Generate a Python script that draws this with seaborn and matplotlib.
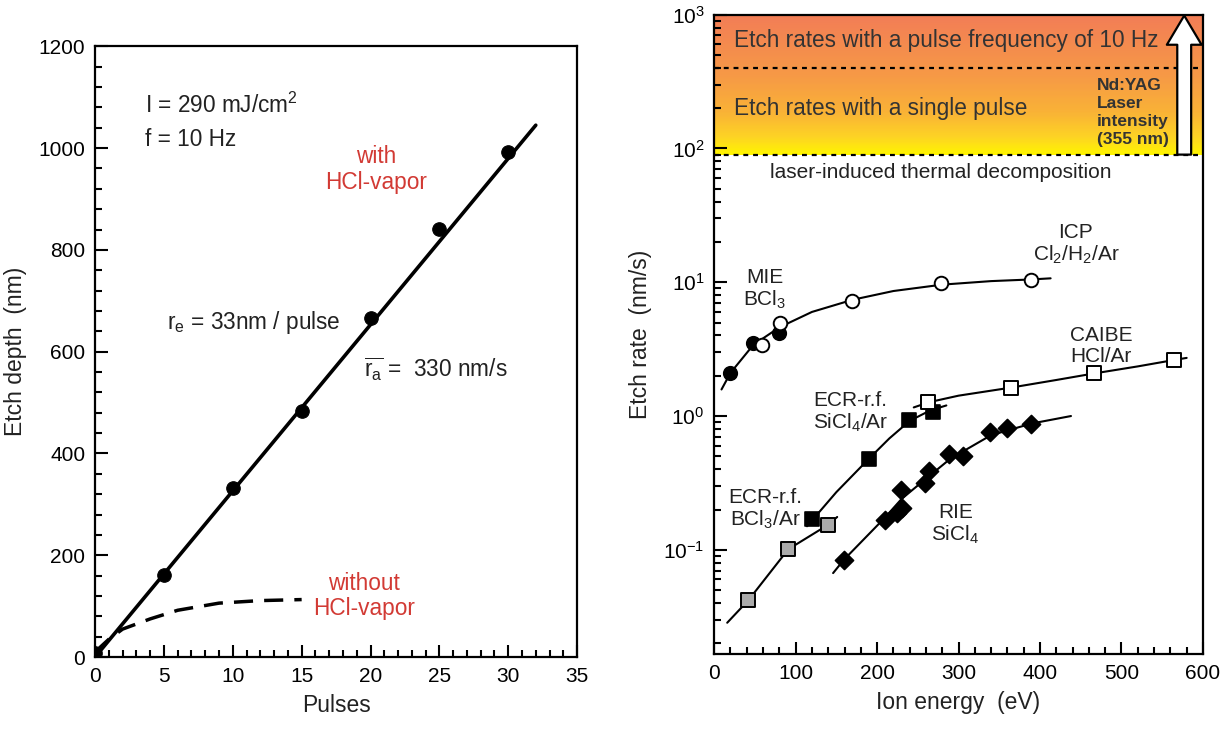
import numpy as np
import matplotlib
matplotlib.use("Agg")
import matplotlib.pyplot as plt
import seaborn as sns
from matplotlib.colors import LinearSegmentedColormap
from matplotlib.patches import FancyArrowPatch
from matplotlib.ticker import MultipleLocator, LogLocator, NullFormatter

# ---------------- data: left panel ----------------
pulses = [0, 5, 10, 15, 20, 25, 30]
depth_hcl = [8, 161, 332, 483, 666, 841, 992]
fit_pulses = [0, 32]
fit_depth = [0, 1045]
pulses_nohcl = [0, 1, 2, 4, 6, 9, 12, 15]
depth_nohcl = [10, 35, 55, 75, 92, 106, 111, 113]

# ---------------- data: right panel ----------------
mie_e = [20, 48, 79]
mie_r = [2.08, 3.5, 4.15]
icp_e = [59, 81, 169, 279, 389]
icp_r = [3.41, 5.0, 7.3, 9.9, 10.4]
mie_curve_e = [9, 20, 48, 80, 120, 170, 220, 280, 340, 390, 413]
mie_curve_r = [1.58, 2.1, 3.4, 4.6, 6.0, 7.4, 8.6, 9.6, 10.2, 10.5, 10.7]

ecr_si_e = [120, 190, 239, 269]
ecr_si_r = [0.17, 0.48, 0.93, 1.07]
ecr_si_curve_e = [114, 150, 190, 215, 240, 265, 285]
ecr_si_curve_r = [0.15, 0.27, 0.48, 0.68, 0.92, 1.1, 1.2]

caibe_e = [263, 364, 466, 564]
caibe_r = [1.27, 1.63, 2.09, 2.62]
caibe_curve_e = [245, 264, 300, 364, 420, 466, 520, 564, 580]
caibe_curve_r = [1.16, 1.27, 1.42, 1.63, 1.86, 2.08, 2.35, 2.62, 2.72]

ecr_b_e = [42, 91, 140]
ecr_b_r = [0.042, 0.101, 0.154]
ecr_b_curve_e = [16, 42, 91, 140, 151]
ecr_b_curve_r = [0.0285, 0.042, 0.101, 0.154, 0.176]

rie_e = [159, 210, 225, 231, 229, 259, 264, 288, 305, 339, 360, 389]
rie_r = [0.084, 0.168, 0.188, 0.206, 0.282, 0.316, 0.387, 0.516, 0.50, 0.764, 0.819, 0.867]
rie_curve_e = [146, 159, 210, 230, 260, 290, 340, 390, 438]
rie_curve_r = [0.067, 0.084, 0.175, 0.24, 0.34, 0.48, 0.72, 0.88, 1.0]

band_low, band_mid, band_top = 90, 400, 1000

# ---------------- style ----------------
sns.set_theme(style="ticks")
plt.rcParams["font.family"] = ["Liberation Sans", "DejaVu Sans"]
plt.rcParams.update({
    "mathtext.fontset": "custom",
    "mathtext.rm": "Liberation Sans",
    "mathtext.it": "Liberation Sans",
    "mathtext.bf": "Liberation Sans:bold",
    "axes.linewidth": 1.6,
    "axes.edgecolor": "black",
    "xtick.color": "black",
    "ytick.color": "black",
    "axes.labelcolor": "#222222",
})
red = "#D23A34"
txt = "#222222"
ann = 16.3

fig = plt.figure(figsize=(12.25, 7.35), dpi=100)
ax1 = fig.add_axes([0.0776, 0.106, 0.3935, 0.831])
ax2 = fig.add_axes([0.583, 0.110, 0.399, 0.870])

# ---------------- left panel ----------------
sns.lineplot(x=fit_pulses, y=fit_depth, ax=ax1, color="black", lw=2.6,
             estimator=None, sort=False)
sns.lineplot(x=pulses_nohcl, y=depth_nohcl, ax=ax1, color="black", lw=2.5,
             estimator=None, sort=False, linestyle=(0, (5.5, 3.2)))
sns.scatterplot(x=pulses, y=depth_hcl, ax=ax1, color="black", s=95,
                marker="o", edgecolor="black", zorder=5)
ax1.set_xlim(0, 35)
ax1.set_ylim(0, 1200)
ax1.xaxis.set_major_locator(MultipleLocator(5))
ax1.xaxis.set_minor_locator(MultipleLocator(1))
ax1.yaxis.set_major_locator(MultipleLocator(200))
ax1.yaxis.set_minor_locator(MultipleLocator(40))
ax1.tick_params(which="both", direction="in", top=False, right=False,
                labelsize=15, width=1.5, pad=7)
ax1.tick_params(which="major", length=9)
ax1.tick_params(which="minor", length=5)
ax1.set_xlabel("Pulses", fontsize=16.5, labelpad=6)
ax1.set_ylabel("Etch depth  (nm)", fontsize=16.5, labelpad=8)

ax1.text(3.6, 1084, "I = 290 mJ/cm$^2$", fontsize=ann, color=txt, va="center")
ax1.text(3.6, 1017, "f = 10 Hz", fontsize=ann, color=txt, va="center")
ax1.text(20.4, 958, "with\nHCl-vapor", fontsize=ann, color=red, ha="center",
         va="center", linespacing=1.15)
ax1.text(5.2, 658, "r$_\\mathrm{e}$ = 33nm / pulse", fontsize=ann, color=txt,
         va="center")
ax1.text(19.5, 566, "$\\overline{\\mathrm{r}_\\mathrm{a}}$ =  330 nm/s",
         fontsize=ann, color=txt, va="center")
ax1.text(19.5, 120, "without\nHCl-vapor", fontsize=ann, color=red, ha="center",
         va="center", linespacing=1.15)

# ---------------- right panel ----------------
ax2.set_yscale("log")
ax2.set_xlim(0, 600)
ax2.set_ylim(0.0166, 1000)

cmap = LinearSegmentedColormap.from_list(
    "band",
    [(0.0, "#FFF400"), (0.12, "#FDD324"), (0.3, "#F9B236"),
     (0.55, "#F69A45"), (1.0, "#F27D56")])
Y = np.logspace(np.log10(band_low), np.log10(band_top), 120)
Yc = 0.5 * (np.log10(Y[:-1]) + np.log10(Y[1:]))
C = ((Yc - np.log10(band_low)) / (np.log10(band_top) - np.log10(band_low)))[:, None]
ax2.pcolormesh([0, 600], Y, C, cmap=cmap, shading="flat", zorder=0,
               rasterized=True)
for yv in (band_low, band_mid):
    ax2.axhline(yv, color="black", lw=1.6, linestyle=(0, (2.2, 2.2)), zorder=2)

arrow = FancyArrowPatch((577, band_low), (577, band_top * 0.985),
                        arrowstyle="simple,head_length=1.05,head_width=1.25,tail_width=0.5",
                        mutation_scale=20, fc="white", ec="black", lw=1.6,
                        shrinkA=0, shrinkB=0, zorder=3)
ax2.add_patch(arrow)

ax2.text(24, 640, "Etch rates with a pulse frequency of 10 Hz", fontsize=16.3,
         color="#333333", va="center")
ax2.text(24, 200, "Etch rates with a single pulse", fontsize=16.3,
         color="#333333", va="center")
ax2.text(470, 185, "Nd:YAG\nLaser\nintensity\n(355 nm)", fontsize=12.5,
         fontweight="bold", color="#333333", va="center", ha="left",
         linespacing=1.25)
ax2.text(278, 66, "laser-induced thermal decomposition", fontsize=15,
         color=txt, ha="center", va="center")

# curves
for ce, cr in [(mie_curve_e, mie_curve_r), (ecr_si_curve_e, ecr_si_curve_r),
               (caibe_curve_e, caibe_curve_r), (ecr_b_curve_e, ecr_b_curve_r),
               (rie_curve_e, rie_curve_r)]:
    sns.lineplot(x=ce, y=cr, ax=ax2, color="black", lw=1.5, estimator=None,
                 sort=False, zorder=3)

sns.scatterplot(x=mie_e, y=mie_r, ax=ax2, marker="o", s=95, color="black",
                edgecolor="black", linewidth=1.2, zorder=5)
sns.scatterplot(x=icp_e, y=icp_r, ax=ax2, marker="o", s=95, color="white",
                edgecolor="black", linewidth=1.4, zorder=6)
sns.scatterplot(x=ecr_si_e, y=ecr_si_r, ax=ax2, marker="s", s=105,
                color="black", edgecolor="black", linewidth=1.2, zorder=5)
sns.scatterplot(x=caibe_e, y=caibe_r, ax=ax2, marker="s", s=105,
                color="white", edgecolor="black", linewidth=1.4, zorder=6)
sns.scatterplot(x=ecr_b_e, y=ecr_b_r, ax=ax2, marker="s", s=105,
                color="#AAAAAA", edgecolor="black", linewidth=1.4, zorder=5)
sns.scatterplot(x=rie_e, y=rie_r, ax=ax2, marker="D", s=85, color="black",
                edgecolor="black", linewidth=1.2, zorder=5)

lab = 15
ax2.text(62, 8.9, "MIE\nBCl$_3$", fontsize=lab, color=txt, ha="center",
         va="center", linespacing=1.1)
ax2.text(444, 19, "ICP\nCl$_2$/H$_2$/Ar", fontsize=lab, color=txt,
         ha="center", va="center", linespacing=1.1)
ax2.text(475, 3.35, "CAIBE\nHCl/Ar", fontsize=lab, color=txt, ha="center",
         va="center", linespacing=1.1)
ax2.text(167, 1.07, "ECR-r.f.\nSiCl$_4$/Ar", fontsize=lab, color=txt,
         ha="center", va="center", linespacing=1.1)
ax2.text(63, 0.2, "ECR-r.f.\nBCl$_3$/Ar", fontsize=lab, color=txt,
         ha="center", va="center", linespacing=1.1)
ax2.text(296, 0.155, "RIE\nSiCl$_4$", fontsize=lab, color=txt, ha="center",
         va="center", linespacing=1.1)

ax2.xaxis.set_major_locator(MultipleLocator(100))
ax2.xaxis.set_minor_locator(MultipleLocator(20))
ax2.yaxis.set_major_locator(LogLocator(base=10, numticks=10))
ax2.yaxis.set_minor_locator(LogLocator(base=10, subs=np.arange(2, 10), numticks=20))
ax2.yaxis.set_minor_formatter(NullFormatter())
ax2.tick_params(which="both", direction="in", top=False, right=False,
                labelsize=15, width=1.5, pad=7)
ax2.tick_params(which="major", length=9)
ax2.tick_params(which="minor", length=5)
ax2.set_xlabel("Ion energy  (eV)", fontsize=16.5, labelpad=6)
ax2.set_ylabel("Etch rate  (nm/s)", fontsize=16.5, labelpad=8)

for ax in (ax1, ax2):
    for sp in ax.spines.values():
        sp.set_visible(True)
        sp.set_linewidth(1.6)
        sp.set_zorder(10)

fig.savefig("out.png", dpi=100)
